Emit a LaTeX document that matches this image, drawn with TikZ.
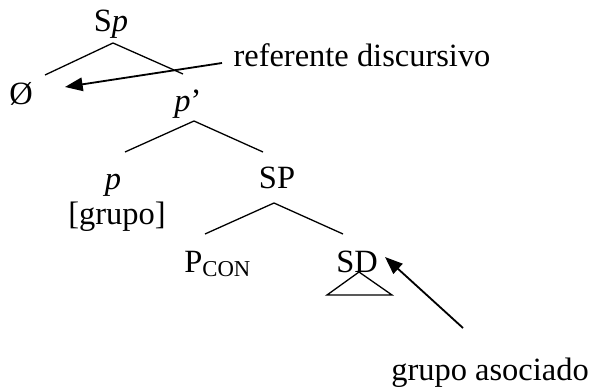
\documentclass[tikz,border=0pt]{standalone}
\usepackage{fontspec}
\setmainfont{Liberation Serif}
\usepackage{tikz}
\usetikzlibrary{arrows.meta,calc}

\begin{document}
\begin{tikzpicture}[
  x=0.385pt, y=-0.385pt,
  font=\fontsize{12.5}{15}\selectfont,
  label/.style={inner sep=0pt, anchor=base},
  branch/.style={line width=0.5pt},
  pointer/.style={-{Triangle[length=6.8pt,width=5.2pt]}, line width=0.7pt}
]
\useasboundingbox (0,0) rectangle (589,389);

% tree labels
\node[label] (Sp) at (111,32) {S\textit{p}};
\node[label] (nul) at (21,105) {Ø};
\node[label] (pbar) at (188,112) {\textit{p}’};
\node[label] (p) at (113,190) {\textit{p}};
\node[label] (grp) at (117,225) {[grupo]};
\node[label] (SP) at (277,189) {SP};
\node[label] (Pcon) at (218,272) {P\textsubscript{CON}};
\node[label] (SD) at (357,272) {SD};

% notes
\node[label, anchor=base west] (ref) at (233,67) {referente discursivo};
\node[label] (asoc) at (490,380) {grupo asociado};

% branches
\draw[branch] ($(Sp.base)+(2,11)$) -- ($(nul.base)+(24,-30)$);
\draw[branch] ($(Sp.base)+(2,11)$) -- ($(pbar.base)+(-5,-38)$);
\draw[branch] ($(pbar.base)+(6,9)$) -- ($(p.base)+(12,-38)$);
\draw[branch] ($(pbar.base)+(6,9)$) -- ($(SP.base)+(-14,-37)$);
\draw[branch] ($(SP.base)+(-3,14)$) -- ($(Pcon.base)+(-13,-38)$);
\draw[branch] ($(SP.base)+(-3,14)$) -- ($(SD.base)+(-14,-38)$);
\draw[branch] ($(SD.base)+(2,0)$) -- ++(-32,23) -- ++(65,0) -- cycle;

% arrows
\draw[pointer] ($(ref.base west)+(-11,-4)$) -- ($(nul.base)+(44,-18)$);
\draw[pointer] ($(asoc.base)+(-27,-52)$) -- ($(SD.base)+(28,-15)$);
\end{tikzpicture}
\end{document}
